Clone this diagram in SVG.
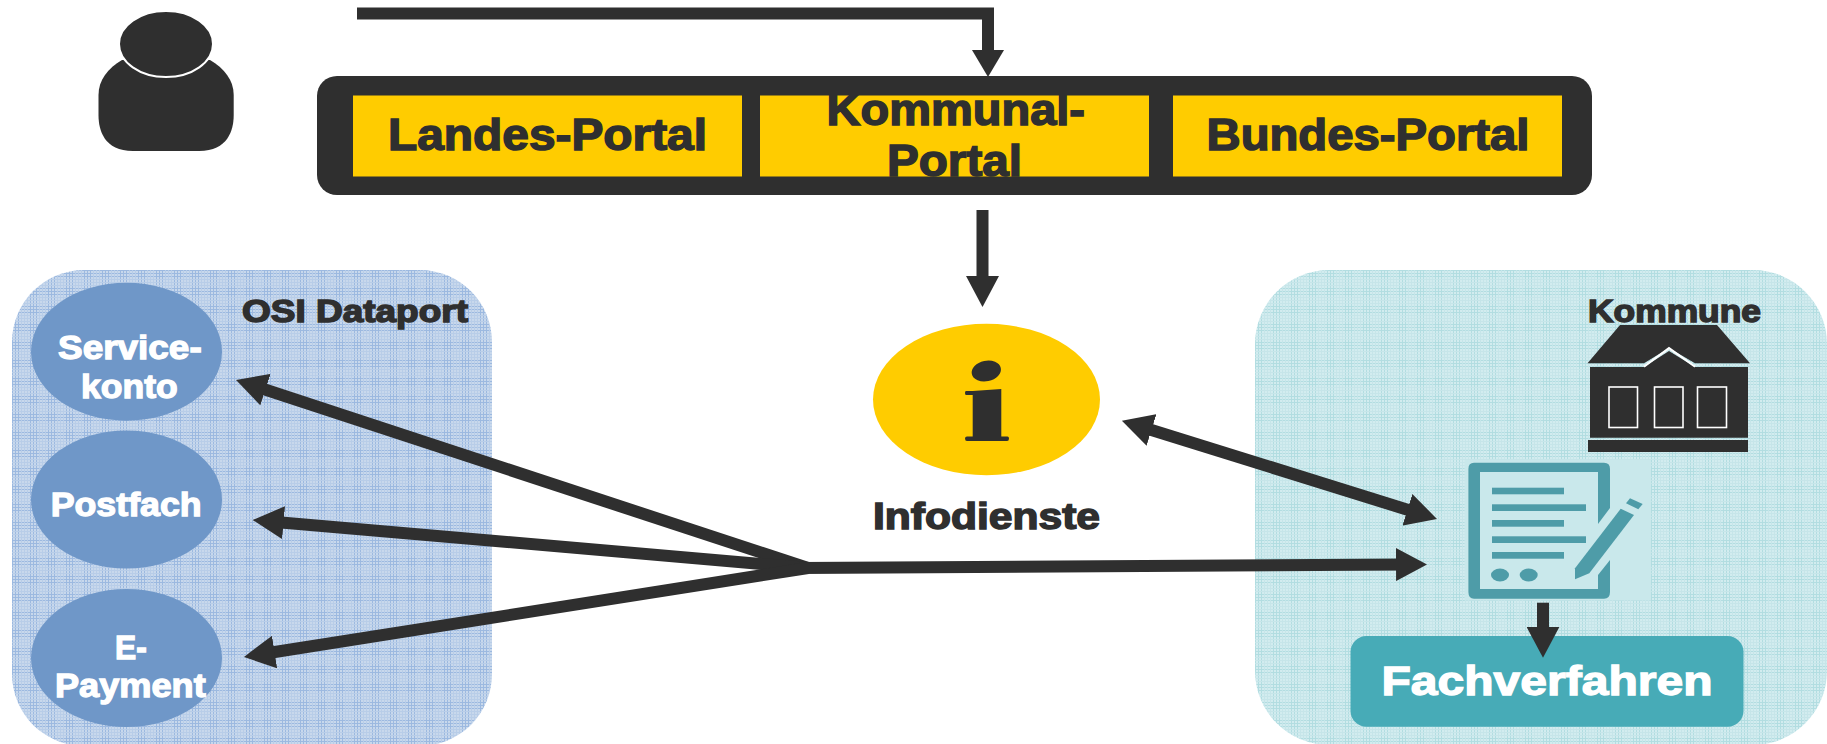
<svg xmlns="http://www.w3.org/2000/svg" width="1827" height="744" viewBox="0 0 1827 744">
<style>
text{font-family:"Liberation Sans",Arial,sans-serif;font-weight:700}
.d{fill:#2f2f2f;stroke:#2f2f2f;stroke-width:1.500}
.w{fill:#fff;stroke:#fff;stroke-width:1.300}
.p{font-size:45px}
.m{font-size:34px}
.t{font-size:32px}
.y{fill:#ffcc00}
.dk{fill:#2f2f2f}
.c{fill:none;stroke:#2f2f2f;stroke-width:12}
.oe{fill:#6f97c8}
.tl{fill:#4e9ca8}
.win{fill:none;stroke:#fff;stroke-width:1.600}
</style>
<defs>
<pattern id="gb" width="18" height="18" patternUnits="userSpaceOnUse" x="12" y="270">
<rect width="18" height="18" fill="#c8d8ec"/>
<path d="M0 .5H18M0 3.500H18M0 6.500H18M.5 0V18M3.500 0V18M6.500 0V18" stroke="#9cb9e0" stroke-width="1"/>
<path d="M0 9.500H18M0 12.500H18M0 15.500H18M9.500 0V18M12.500 0V18M15.500 0V18" stroke="#b8cde8" stroke-width="1"/>
</pattern>
<pattern id="gt" width="18" height="18" patternUnits="userSpaceOnUse" x="1255" y="270">
<rect width="18" height="18" fill="#d2ecef"/>
<path d="M0 .5H18M0 3.500H18M0 6.500H18M.5 0V18M3.500 0V18M6.500 0V18" stroke="#b2dde1" stroke-width="1"/>
<path d="M0 9.500H18M0 12.500H18M0 15.500H18M9.500 0V18M12.500 0V18M15.500 0V18" stroke="#c6e5e9" stroke-width="1"/>
</pattern>
<marker id="head" markerUnits="userSpaceOnUse" markerWidth="33" markerHeight="33" refX="11" refY="16.500" orient="auto-start-reverse"><path d="M0 0L31 16.500L0 33Z" fill="#2f2f2f"/></marker>
<marker id="headS" markerUnits="userSpaceOnUse" markerWidth="27" markerHeight="32" refX="7" refY="16" orient="auto"><path d="M0 0L27 16L0 32Z" fill="#2f2f2f"/></marker>
</defs>

<g id="osi-dataport">
<rect x="12" y="270" width="480" height="476" rx="72" ry="72" fill="url(#gb)"/>
<text class="d t" x="242" y="321.500" textLength="226" lengthAdjust="spacingAndGlyphs">OSI Dataport</text>
</g>
<g id="kommune">
<rect x="1255" y="270" width="572" height="475" rx="74" ry="74" fill="url(#gt)"/>
<text class="d t" x="1588" y="321.500" textLength="173" lengthAdjust="spacingAndGlyphs">Kommune</text>
</g>

<g id="person">
<path class="dk" d="M122 60C108 68 98.500 80 98.500 95V115C98.500 130 104 151 133 151H199C228 151 233.700 130 233.700 115V95C233.700 80 224 68 210 60Z"/>
<ellipse cx="166" cy="44" rx="47" ry="33" fill="#2f2f2f" stroke="#fff" stroke-width="2"/>
</g>

<g id="portal-bar">
<rect class="dk" x="317" y="76" width="1275" height="119" rx="20" ry="20"/>
</g>
<g id="landes-portal">
<rect class="y" x="353" y="95.500" width="389" height="81"/>
<text class="d p" x="388" y="150" textLength="319" lengthAdjust="spacingAndGlyphs">Landes-Portal</text>
</g>
<g id="kommunal-portal">
<rect class="y" x="760" y="95.500" width="389" height="81"/>
<text class="d p" x="826.500" y="125" textLength="258.500" lengthAdjust="spacingAndGlyphs">Kommunal-</text>
<text class="d p" x="887" y="176" textLength="135" lengthAdjust="spacingAndGlyphs">Portal</text>
</g>
<g id="bundes-portal">
<rect class="y" x="1173" y="95.500" width="389" height="81"/>
<text class="d p" x="1206.500" y="150" textLength="323" lengthAdjust="spacingAndGlyphs">Bundes-Portal</text>
</g>

<g id="infodienste">
<ellipse class="y" cx="986.500" cy="399.500" rx="113.500" ry="75.700"/>
<ellipse class="dk" cx="986.300" cy="371" rx="14.800" ry="10.300" transform="rotate(-12 986.300 371)"/>
<path class="dk" d="M966 391H972.700L1001.300 389V436.500H1007.500Q1009 436.500 1009 438.500Q1009 441 1007 441H967Q965 441 965 438.500Q965 436.500 967 436.500H972.700V395H966Q965 395 965 393Q965 391 966 391Z"/>
<text class="d" x="873" y="529" font-size="37" textLength="227" lengthAdjust="spacingAndGlyphs">Infodienste</text>
</g>

<g id="servicekonto">
<ellipse class="oe" cx="126.500" cy="351.700" rx="95.500" ry="69"/>
<text class="w m" x="58" y="359.300" textLength="143.700" lengthAdjust="spacingAndGlyphs">Service-</text>
<text class="w m" x="81" y="398.300" textLength="96.700" lengthAdjust="spacingAndGlyphs">konto</text>
</g>
<g id="postfach">
<ellipse class="oe" cx="126.500" cy="499.500" rx="95.500" ry="69"/>
<text class="w m" x="50.700" y="516" textLength="151" lengthAdjust="spacingAndGlyphs">Postfach</text>
</g>
<g id="e-payment">
<ellipse class="oe" cx="126.500" cy="658" rx="95.500" ry="69"/>
<text class="w m" x="115" y="659" textLength="31.700" lengthAdjust="spacingAndGlyphs">E-</text>
<text class="w m" x="55" y="697" textLength="150.700" lengthAdjust="spacingAndGlyphs">Payment</text>
</g>

<g id="rathaus">
<path class="dk" d="M1620 325H1717L1750 363.300H1695L1669 348L1644 363.300H1587.500Z"/>
<path class="dk" d="M1590 367H1644L1669 351L1695 367H1748V437.700H1590Z"/>
<path d="M1644 366.700L1669 348L1695 366.700" fill="none" stroke="#fff" stroke-width="2"/>
<rect class="dk" x="1588" y="440" width="160" height="12"/>
<rect class="win" x="1609" y="387" width="28.500" height="40.500"/>
<rect class="win" x="1654.500" y="387" width="28.500" height="40.500"/>
<rect class="win" x="1697.500" y="387" width="29" height="40.500"/>
</g>

<g id="formular">
<rect x="1464.500" y="460" width="186.500" height="140.500" fill="#c9e8eb"/>
<path class="tl" fill-rule="evenodd" d="M1474 462.700H1604Q1610 462.700 1610 469V592Q1610 598.700 1604 598.700H1474Q1468.400 598.700 1468.400 592V469Q1468.400 462.700 1474 462.700ZM1480 472V589H1598V472Z"/>
<path d="M1598 524L1610 508V560L1598 575Z" fill="#c9e8eb"/>
<g class="tl">
<rect x="1492" y="487.700" width="72" height="6.600"/>
<rect x="1492" y="504.300" width="94" height="6.700"/>
<rect x="1492" y="520" width="72" height="6.700"/>
<rect x="1492" y="536.300" width="94" height="6.700"/>
<rect x="1492" y="552" width="72" height="6.700"/>
<ellipse cx="1500" cy="575" rx="9" ry="6.500"/>
<ellipse cx="1528.700" cy="575" rx="9" ry="6.500"/>
<path d="M1620.700 508.700L1634 515L1589.300 573.300L1575 579.300V568.300Z"/>
<path d="M1630 498.300L1642.700 504L1638.300 509.300L1626 503.300Z"/>
</g>
</g>

<g id="fachverfahren">
<rect x="1350.500" y="636" width="393" height="90.700" rx="16" ry="16" fill="#47abb7"/>
<text class="w" x="1381.500" y="695" font-size="41" textLength="331" lengthAdjust="spacingAndGlyphs">Fachverfahren</text>
</g>

<g id="connectors">
<path class="c" d="M357 13.500H988V57" marker-end="url(#headS)"/>
<path class="c" d="M982.500 210V287" marker-end="url(#head)"/>
<path class="c" d="M808 568L255 386.200" marker-end="url(#head)"/>
<path class="c" d="M808 568L272.600 521.700" marker-end="url(#head)"/>
<path class="c" d="M808 568L263.700 653.800" marker-end="url(#head)"/>
<path class="c" d="M800 568L1407 564.500" marker-end="url(#head)"/>
<path class="c" d="M1141 426.700L1417.900 513" marker-start="url(#head)" marker-end="url(#head)"/>
<path class="c" d="M1543 602.700V637.700" marker-end="url(#head)"/>
</g>
</svg>
